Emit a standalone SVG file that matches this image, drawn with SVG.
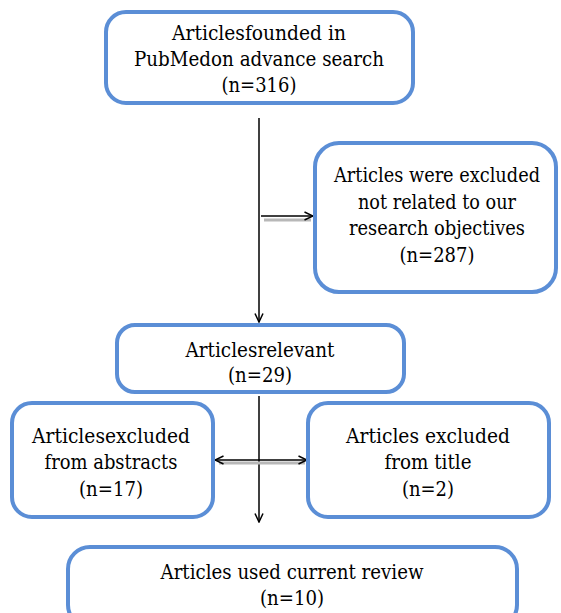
<svg xmlns="http://www.w3.org/2000/svg" width="561" height="613" viewBox="0 0 561 613">
<defs>
<style>
.box{fill:#ffffff;stroke:#5b8ed6;stroke-width:4}
.t{font-family:"DejaVu Serif","Liberation Serif",serif;font-size:21px;fill:#000;text-anchor:middle}
.ln{stroke:#000;stroke-width:1.5;fill:none}
.sh{stroke:#b8b8b8;stroke-width:3;fill:none}
</style>
<marker id="ah" viewBox="0 0 10 10" refX="9.5" refY="5" markerWidth="10" markerHeight="10" markerUnits="userSpaceOnUse" orient="auto-start-reverse">
<path d="M1,1 L9.5,5 L1,9" fill="none" stroke="#000" stroke-width="1.5"/>
</marker>
</defs>
<rect width="561" height="613" fill="#fff"/>
<g id="connectors">
<line class="ln" x1="259" y1="118" x2="259" y2="322" marker-end="url(#ah)"/>
<line class="sh" x1="264" y1="220" x2="311" y2="220"/>
<line class="ln" x1="261" y1="216" x2="313" y2="216" marker-end="url(#ah)"/>
<line class="ln" x1="259" y1="396" x2="259" y2="522" marker-end="url(#ah)"/>
<line class="sh" x1="219" y1="463" x2="305" y2="463"/>
<line class="ln" x1="215" y1="460" x2="307" y2="460" marker-start="url(#ah)" marker-end="url(#ah)"/>
</g>
<g id="n1">
<rect class="box" x="106" y="12" width="307" height="91" rx="20"/>
<text class="t" x="259" y="40" textLength="174" lengthAdjust="spacingAndGlyphs">Articlesfounded in</text>
<text class="t" x="259" y="66" textLength="250" lengthAdjust="spacingAndGlyphs">PubMedon advance search</text>
<text class="t" x="259" y="92" textLength="75" lengthAdjust="spacingAndGlyphs">(n=316)</text>
</g>
<g id="n2">
<rect class="box" x="315" y="143" width="241" height="149" rx="24"/>
<text class="t" x="437" y="182" font-size="20" textLength="206" lengthAdjust="spacingAndGlyphs">Articles were excluded</text>
<text class="t" x="437" y="209" textLength="158" lengthAdjust="spacingAndGlyphs">not related to our</text>
<text class="t" x="437" y="235" textLength="176" lengthAdjust="spacingAndGlyphs">research objectives</text>
<text class="t" x="437" y="262" textLength="75" lengthAdjust="spacingAndGlyphs">(n=287)</text>
</g>
<g id="n3">
<rect class="box" x="117" y="325" width="287" height="67" rx="18"/>
<text class="t" x="260" y="357" textLength="149" lengthAdjust="spacingAndGlyphs">Articlesrelevant</text>
<text class="t" x="260" y="382" textLength="64" lengthAdjust="spacingAndGlyphs">(n=29)</text>
</g>
<g id="n4">
<rect class="box" x="12" y="403" width="201" height="114" rx="20"/>
<text class="t" x="111" y="443" textLength="158" lengthAdjust="spacingAndGlyphs">Articlesexcluded</text>
<text class="t" x="111" y="469" textLength="133" lengthAdjust="spacingAndGlyphs">from abstracts</text>
<text class="t" x="111" y="496" textLength="64" lengthAdjust="spacingAndGlyphs">(n=17)</text>
</g>
<g id="n5">
<rect class="box" x="308" y="403" width="241" height="114" rx="20"/>
<text class="t" x="428" y="443" textLength="164" lengthAdjust="spacingAndGlyphs">Articles excluded</text>
<text class="t" x="428" y="469" textLength="87" lengthAdjust="spacingAndGlyphs">from title</text>
<text class="t" x="428" y="496" textLength="52" lengthAdjust="spacingAndGlyphs">(n=2)</text>
</g>
<g id="n6">
<rect class="box" x="68" y="547" width="449" height="80" rx="22"/>
<text class="t" x="292" y="579" textLength="263" lengthAdjust="spacingAndGlyphs">Articles used current review</text>
<text class="t" x="292" y="605" textLength="64" lengthAdjust="spacingAndGlyphs">(n=10)</text>
</g>
</svg>
